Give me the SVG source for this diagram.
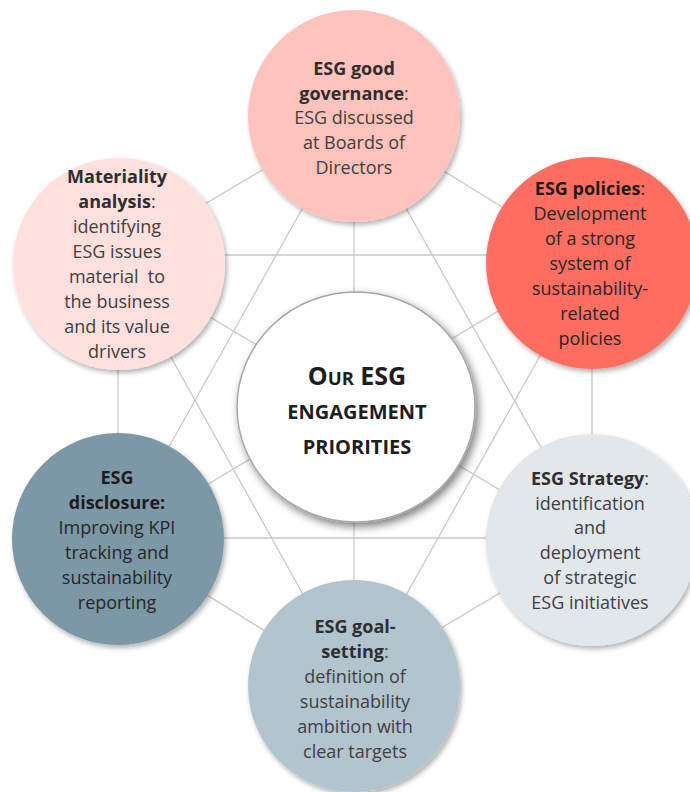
<svg xmlns="http://www.w3.org/2000/svg" width="690" height="792" viewBox="0 0 690 792">
<defs>
<filter id="sh" x="-20%" y="-20%" width="140%" height="140%">
<feDropShadow dx="2" dy="3" stdDeviation="2.5" flood-color="#000" flood-opacity="0.3"/>
</filter>
<filter id="shc" x="-20%" y="-20%" width="140%" height="140%">
<feDropShadow dx="3" dy="4" stdDeviation="4" flood-color="#000" flood-opacity="0.5"/>
</filter>
<style>
text{font-family:"Open Sans","Noto Sans","DejaVu Sans",sans-serif;font-size:18px;text-anchor:middle}
.b{font-weight:700;fill:#2e2e2e}
.r{font-weight:400;fill:#404040}
.d .b{fill:#1c1c1c}
.d .r{fill:#262626}
.c{font-weight:700;fill:#1e1e1e}
text.big{font-size:20px}
.cap{font-size:25px}
.sc{font-size:18.5px}
line{stroke:#c9c9c9;stroke-width:1.3}
</style>
</defs>
<rect width="690" height="792" fill="#fff"/>
<g id="connectors">
<line x1="354" y1="116" x2="118" y2="255"/>
<line x1="354" y1="116" x2="592" y2="262"/>
<line x1="354" y1="116" x2="118" y2="538"/>
<line x1="354" y1="116" x2="592" y2="538"/>
<line x1="354" y1="116" x2="354" y2="686"/>
<line x1="118" y1="255" x2="592" y2="255"/>
<line x1="118" y1="255" x2="118" y2="538"/>
<line x1="118" y1="262" x2="592" y2="545"/>
<line x1="118" y1="262" x2="354" y2="686"/>
<line x1="592" y1="255" x2="118" y2="538"/>
<line x1="592" y1="255" x2="592" y2="538"/>
<line x1="592" y1="263" x2="354" y2="688"/>
<line x1="118" y1="538" x2="592" y2="538"/>
<line x1="118" y1="540" x2="354" y2="686"/>
<line x1="592" y1="538" x2="354" y2="680"/>
</g>
<g id="governance">
<circle cx="354" cy="116" r="106" fill="#fec3bc" filter="url(#sh)"/>
<text x="354" y="75" class="b">ESG good</text>
<text x="354" y="100"><tspan class="b">governance</tspan><tspan class="r">:</tspan></text>
<text x="354" y="124" class="r">ESG discussed</text>
<text x="354" y="149" class="r">at Boards of</text>
<text x="354" y="174" class="r">Directors</text>
</g>
<g id="policies" class="d">
<circle cx="592" cy="263" r="106" fill="#fe6e61" filter="url(#sh)"/>
<text x="590" y="195"><tspan class="b">ESG policies</tspan><tspan class="r">:</tspan></text>
<text x="590" y="220" class="r">Development</text>
<text x="590" y="245" class="r">of a strong</text>
<text x="590" y="270" class="r">system of</text>
<text x="590" y="295" class="r">sustainability-</text>
<text x="590" y="320" class="r">related</text>
<text x="590" y="345" class="r">policies</text>
</g>
<g id="materiality">
<circle cx="119" cy="264" r="106" fill="#fee0df" filter="url(#sh)"/>
<text x="117" y="183" class="b">Materiality</text>
<text x="117" y="208"><tspan class="b">analysis</tspan><tspan class="r">:</tspan></text>
<text x="117" y="233" class="r">identifying</text>
<text x="117" y="258" class="r">ESG issues</text>
<text x="117" y="283" class="r">material&#160; to</text>
<text x="117" y="308" class="r">the business</text>
<text x="117" y="333" class="r">and its value</text>
<text x="117" y="358" class="r">drivers</text>
</g>
<g id="disclosure" class="d">
<circle cx="118" cy="539" r="106" fill="#7b98a7" filter="url(#sh)"/>
<text x="117" y="484" class="b">ESG</text>
<text x="117" y="509" class="b">disclosure:</text>
<text x="117" y="534" class="r">Improving KPI</text>
<text x="117" y="559" class="r">tracking and</text>
<text x="117" y="584" class="r">sustainability</text>
<text x="117" y="609" class="r">reporting</text>
</g>
<g id="strategy">
<circle cx="592" cy="540" r="106" fill="#e2e7eb" filter="url(#sh)"/>
<text x="590" y="485"><tspan class="b">ESG Strategy</tspan><tspan class="r">:</tspan></text>
<text x="590" y="510" class="r">identification</text>
<text x="590" y="534" class="r">and</text>
<text x="590" y="559" class="r">deployment</text>
<text x="590" y="584" class="r">of strategic</text>
<text x="590" y="609" class="r">ESG initiatives</text>
</g>
<g id="goal-setting">
<circle cx="354" cy="686" r="106" fill="#b2c4ce" filter="url(#sh)"/>
<text x="355" y="633" class="b">ESG goal-</text>
<text x="355" y="658"><tspan class="b">setting</tspan><tspan class="r">:</tspan></text>
<text x="355" y="683" class="r">definition of</text>
<text x="355" y="708" class="r">sustainability</text>
<text x="355" y="733" class="r">ambition with</text>
<text x="355" y="758" class="r">clear targets</text>
</g>
<g id="center">
<ellipse cx="356" cy="407" rx="119" ry="115" fill="#fff" stroke="#a6a6a6" stroke-width="1.5" filter="url(#shc)"/>
<text x="357" y="385" class="c"><tspan class="cap">O</tspan><tspan class="sc">UR</tspan><tspan class="cap"> ESG</tspan></text>
<text x="357" y="419" class="c big">ENGAGEMENT</text>
<text x="357" y="454" class="c big">PRIORITIES</text>
</g>
</svg>
